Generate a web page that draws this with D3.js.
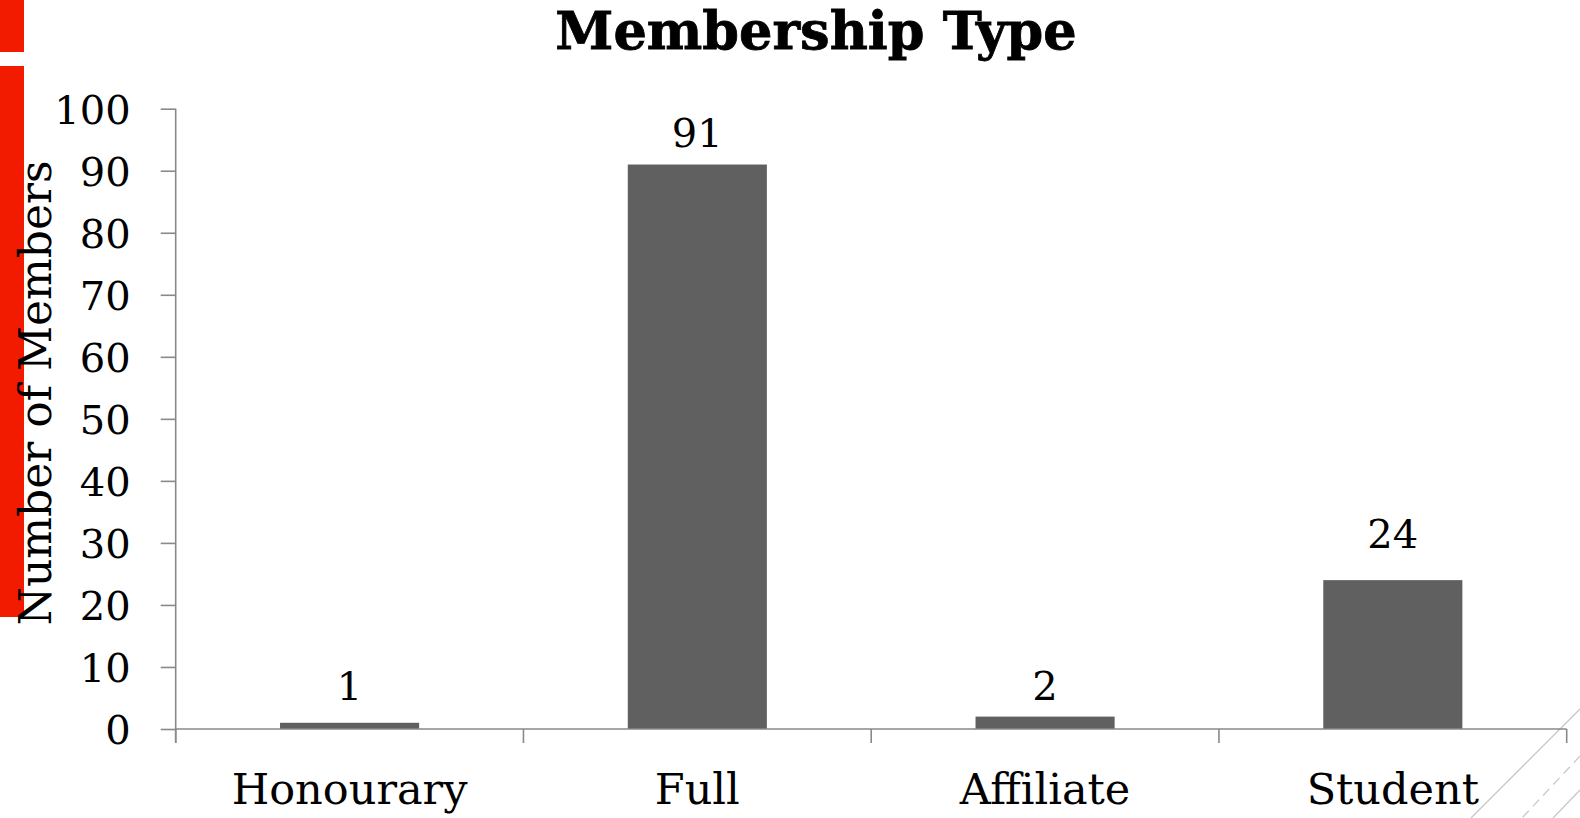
<!DOCTYPE html>
<html><head><meta charset="utf-8">
<script src="https://cdn.jsdelivr.net/npm/d3@7"></script>
<style>
html,body{margin:0;padding:0;background:#fff;}
svg{display:block;}
text{font-family:"DejaVu Serif",serif;fill:#000;}
</style></head>
<body>
<svg id="chart" width="1580" height="818"></svg>
<script>
const categories = ["Honourary", "Full", "Affiliate", "Student"];
const memberCounts = [1, 91, 2, 24];
const yTicks = [0, 10, 20, 30, 40, 50, 60, 70, 80, 90, 100];
const titleText = "Membership Type";
const yAxisTitle = "Number of Members";
// gap between bar top and label baseline (layout only)
const labelGap = [22.7, 18, 16.7, 32.4];

(function(){
const svg = d3.select("#chart");
const plotLeft = 175.7, plotRight = 1566.7, plotTop = 108.7, plotBottom = 729;
const axisColor = "#898989";

// decorative red bars
svg.append("rect").attr("x",0).attr("y",0).attr("width",24).attr("height",52).attr("fill","#f21b00");
svg.append("rect").attr("x",0).attr("y",66).attr("width",24).attr("height",551).attr("fill","#f21b00");

// decorative diagonal lines bottom right
const deco = svg.append("g").attr("stroke","#c8c8c8").attr("stroke-width",1.3).attr("fill","none");
deco.append("line").attr("x1",1580).attr("y1",709).attr("x2",1471).attr("y2",818);
deco.append("line").attr("x1",1580).attr("y1",756).attr("x2",1522).attr("y2",818).attr("stroke-dasharray","9,6");
deco.append("line").attr("x1",1580).attr("y1",790).attr("x2",1553).attr("y2",818);

const x = d3.scaleBand().domain(categories).range([plotLeft, plotRight]).paddingInner(0.6).paddingOuter(0.3);
const xb = d3.scaleBand().domain(categories).range([plotLeft, plotRight]);
const y = d3.scaleLinear().domain([0, 100]).range([plotBottom, plotTop]);

// bars
svg.append("g").selectAll("rect").data(memberCounts).join("rect")
  .attr("x",(d,i)=>x(categories[i]))
  .attr("y",d=>y(d))
  .attr("width",x.bandwidth())
  .attr("height",d=>y(0)-y(d))
  .attr("fill","#606060");

// y axis
const yAxis = d3.axisLeft(y).tickValues(yTicks).tickSize(15).tickPadding(30).tickSizeOuter(0);
const gy = svg.append("g").attr("transform",`translate(${plotLeft},0)`).call(yAxis);
gy.select(".domain").attr("stroke",axisColor).attr("stroke-width",1.6);
gy.selectAll(".tick line").attr("stroke",axisColor).attr("stroke-width",1.6);
gy.selectAll(".tick text").attr("font-family","DejaVu Serif").attr("font-size",40).attr("fill","#000").attr("dy","0.36em");
gy.select(".domain").attr("d",`M0,${plotTop}V${plotBottom+14}`);

// x axis
const gx = svg.append("g").attr("transform",`translate(0,${plotBottom})`);
gx.append("line").attr("x1",plotLeft).attr("x2",plotRight).attr("y1",0).attr("y2",0).attr("stroke",axisColor).attr("stroke-width",1.6);
const bounds = categories.map(c=>xb(c)).concat([plotRight]);
gx.selectAll("line.t").data(bounds).join("line").attr("class","t")
  .attr("x1",d=>d).attr("x2",d=>d).attr("y1",0).attr("y2",14)
  .attr("stroke",axisColor).attr("stroke-width",1.6);
gx.selectAll("text").data(categories).join("text")
  .attr("x",d=>xb(d)+xb.bandwidth()/2).attr("y",75)
  .attr("text-anchor","middle").attr("font-size",43).text(d=>d);

// data labels
svg.append("g").selectAll("text").data(memberCounts).join("text")
  .attr("x",(d,i)=>x(categories[i])+x.bandwidth()/2)
  .attr("y",(d,i)=>y(d)-labelGap[i])
  .attr("text-anchor","middle").attr("font-size",40).text(d=>d);

// title
svg.append("text").attr("x",816).attr("y",49).attr("text-anchor","middle")
  .attr("font-size",52.5).attr("font-weight","bold").attr("stroke","#000").attr("stroke-width",0.8).text(titleText);

// y axis title
svg.append("text").attr("transform","translate(51,393) rotate(-90)")
  .attr("text-anchor","middle").attr("font-size",44).text(yAxisTitle);
})();
</script>
</body></html>
